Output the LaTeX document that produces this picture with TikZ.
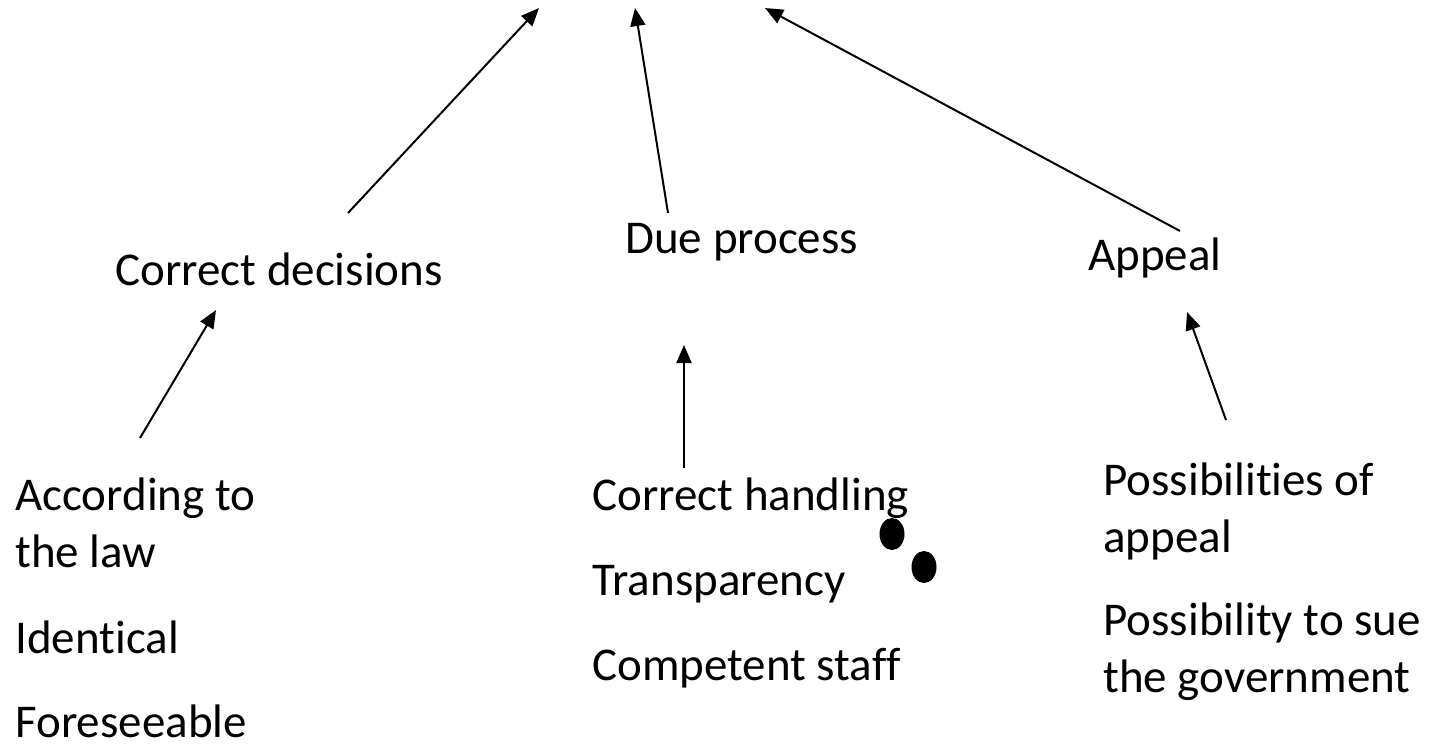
\documentclass[tikz,border=0pt]{standalone}
\usepackage{fontspec}
\setmainfont{Carlito}[RawFeature=-liga]
\usetikzlibrary{arrows.meta,positioning}

\begin{document}
\begin{tikzpicture}[x=0.5pt, y=-0.5pt, >={Triangle[length=9pt, width=7.5pt]}]
        \tikzset{item/.style={anchor=base west, inner sep=0pt, align=left, font=\fontsize{23.5}{28.5}\selectfont}, link/.style={->, line width=1pt}, blot/.style={fill=black, draw=none}}
        \useasboundingbox (0,0) rectangle (1435,746);
        % middle level
        \node[item] (dec) at (115,285) {Correct decisions};
        \node[item] (due) at (625,253) {Due process};
        \node[item] (app) at (1088,270) {Appeal};
        % lower level (base = last line)
        \node[item] (acc) at (15,567) {According to\\the law};
        \node[item] (ident) at (15,653) {Identical};
        \node[item] (fore) at (15,737) {Foreseeable};
        \node[item] (hand) at (592,510) {Correct handling};
        \node[item] (trans) at (592,595) {Transparency};
        \node[item] (staff) at (592,680) {Competent staff};
        \node[item] (poss) at (1103,552) {Possibilities of\\appeal};
        \node[item] (sue) at (1103,692) {Possibility to sue\\the government};
        % arrow ends
        \coordinate (accT) at (140,438);
        \coordinate (decB) at (216,310);
        \coordinate (decT) at (348,213);
        \coordinate (topA) at (539,8);
        \coordinate (dueT) at (668,213);
        \coordinate (topB) at (635,8);
        \coordinate (appT) at (1180,231);
        \coordinate (topC) at (765,8);
        \coordinate (handT) at (684,468);
        \coordinate (dueB) at (684,345);
        \coordinate (possT) at (1226,420);
        \coordinate (appB) at (1187,312);
        \draw[link] (accT) -- (decB);
        \draw[link] (decT) -- (topA);
        \draw[link] (dueT) -- (topB);
        \draw[link] (appT) -- (topC);
        \draw[link] (handT) -- (dueB);
        \draw[link] (possT) -- (appB);
        % stray marks
        \fill[blot] (892,534) ellipse [x radius=12.5, y radius=16];
        \fill[blot] (924,567) ellipse [x radius=12.5, y radius=16];
    \end{tikzpicture}
\end{document}
